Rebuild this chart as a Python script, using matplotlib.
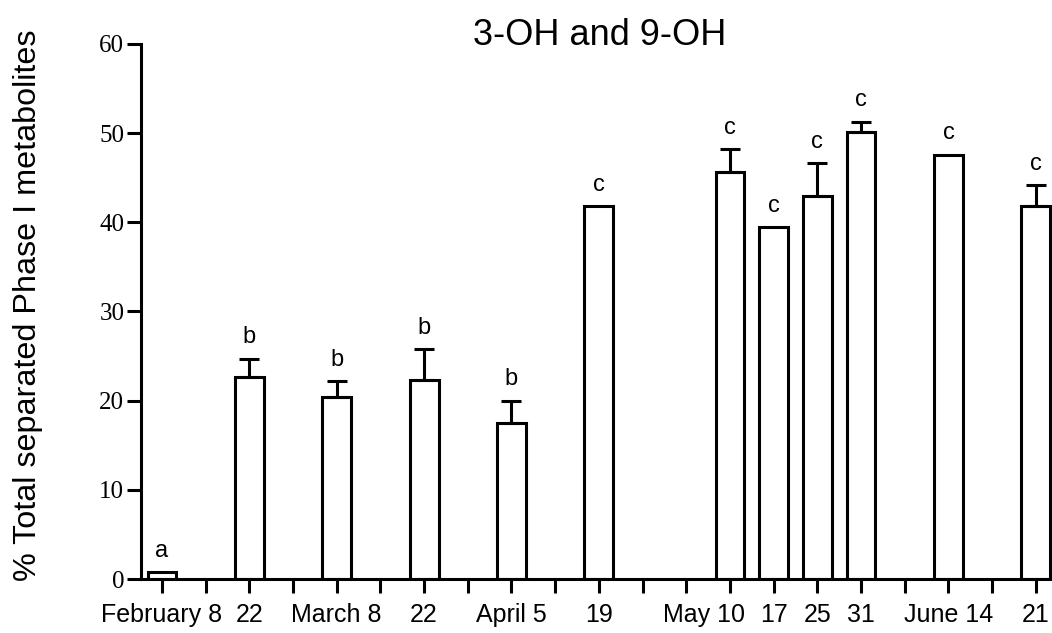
import matplotlib
matplotlib.use('Agg')
import matplotlib.pyplot as plt
import numpy as np

# sampling slots on the x axis (one tick per slot), bars only where sampled
n_slots = 21
slots = [0, 2, 4, 6, 8, 10, 13, 14, 15, 16, 18, 20]
dates = ["February 8", "22", "March 8", "22", "April 5", "19",
         "May 10", "17", "25", "31", "June 14", "21"]
values = [0.8, 22.6, 20.4, 22.3, 17.5, 41.8, 45.7, 39.5, 43.0, 50.1, 47.6, 41.8]
errors = [0.0, 2.1, 1.8, 3.5, 2.5, 0.0, 2.5, 0.0, 3.6, 1.2, 0.0, 2.4]
letters = ["a", "b", "b", "b", "b", "c", "c", "c", "c", "c", "c", "c"]

lw = 2.2
tick_len = 10
tick_pad = 7

fig = plt.figure(figsize=(10.52, 6.33), dpi=100)
ax = fig.add_axes([0.134, 0.0853, 0.866, 0.8452])

ax.bar(slots, values, width=0.66, color="white", edgecolor="black",
       linewidth=lw, zorder=2)

errs = np.array(errors)
has_err = errs > 0
ax.errorbar(np.array(slots)[has_err], np.array(values)[has_err],
            yerr=[np.zeros(has_err.sum()), errs[has_err]], fmt="none",
            ecolor="black", elinewidth=lw, capsize=7, capthick=lw, zorder=3)

for x, v, e, s in zip(slots, values, errors, letters):
    ax.annotate(s, (x, v + e), xytext=(0, 11), textcoords="offset points",
                ha="center", va="baseline", fontsize=17,
                family="Liberation Sans")

ax.set_xlim(-0.48, 20.37)
ax.set_ylim(0, 60)

# "May 10" sits a little left of its tick in the original, so draw it by hand
labels = [""] * n_slots
for x, d in zip(slots, dates):
    if d == "May 10":
        ax.annotate(d, (x, 0), xycoords=ax.get_xaxis_transform(),
                    xytext=(-19, -(tick_len + tick_pad)),
                    textcoords="offset points", ha="center", va="top",
                    fontsize=18, family="Liberation Sans")
    else:
        labels[x] = d
ax.set_xticks(range(n_slots))
ax.set_xticklabels(labels, fontsize=18, family="Liberation Sans")
ax.set_yticks(range(0, 61, 10))
ax.set_yticklabels([str(t) for t in range(0, 61, 10)], fontsize=18,
                   family="Liberation Serif")

ax.tick_params(axis="x", direction="out", length=tick_len, width=lw,
               pad=tick_pad)
ax.tick_params(axis="y", direction="out", length=tick_len, width=lw, pad=2)

for side in ["top", "right"]:
    ax.spines[side].set_visible(False)
for side in ["left", "bottom"]:
    ax.spines[side].set_linewidth(lw)

fig.text(0.570, 0.929, "3-OH and 9-OH", ha="center", va="baseline",
         fontsize=26, family="Liberation Sans")
fig.text(0.027, 0.518, "% Total separated Phase I metabolites", rotation=90,
         ha="center", va="center", fontsize=23.3, family="Liberation Sans")

plt.savefig("out.png", dpi=100)
